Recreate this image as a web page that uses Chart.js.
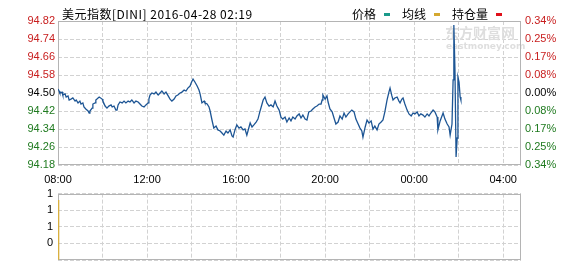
<!DOCTYPE html>
<html><head><meta charset="utf-8">
<script src="https://cdn.jsdelivr.net/npm/chart.js@4"></script>
<style>
html,body{margin:0;padding:0;background:#fff;}
#wrap{position:relative;width:578px;height:276px;overflow:hidden;background:#fff;}
canvas{position:absolute;left:0;}
#c1{top:0;}
#c2{top:182px;}
</style></head><body>
<div id="wrap"><canvas id="c1" width="578" height="188"></canvas><canvas id="c2" width="578" height="94"></canvas></div>
<script>
// ---- data (minutes after 08:00, price) ----
const minutes = [
  0,3,5,11,13,19,22,27,30,35,
  40,46,49,54,59,62,67,70,75,81,
  84,86,92,94,100,102,105,111,113,119,
  121,127,132,137,143,146,151,156,159,162,
  167,173,178,183,189,194,199,205,210,216,
  221,226,232,237,243,245,248,253,259,264,
  270,275,280,286,291,297,302,307,313,318,
  323,329,334,340,345,350,356,359,364,369,
  375,380,383,388,394,396,402,407,410,415,
  420,426,431,437,442,447,453,458,464,469,
  472,477,482,488,493,499,504,509,515,518,
  523,528,534,539,544,550,553,558,563,569,
  574,580,585,590,596,601,606,612,617,623,
  628,633,639,644,650,655,660,666,671,676,
  682,687,693,698,704,709,712,714,720,725,
  728,733,739,744,749,755,760,766,771,776,
  782,787,792,798,803,809,814,819,822,828,
  833,838,844,849,854,860,865,871,876,881,
  887,892,895,900,903,908,914,919,922,927,
  930,935,941,946,952,957,962,968,973,978,
  984,989,995,1000,1005,1011,1016,1022,1024,1030,
  1035,1038,1043,1049,1054,1057,1062,1065,1067,1070,
  1073,1076,1078,1081,1084,1086
];
const prices = [
  94.518,94.509,94.500,94.504,94.491,94.496,94.482,94.487,94.469,94.473,
  94.478,94.464,94.469,94.456,94.464,94.451,94.456,94.438,94.429,94.420,
  94.411,94.420,94.433,94.451,94.456,94.469,94.473,94.482,94.482,94.473,
  94.464,94.442,94.433,94.442,94.447,94.438,94.442,94.424,94.424,94.447,
  94.460,94.456,94.464,94.456,94.464,94.460,94.469,94.456,94.464,94.460,
  94.451,94.442,94.438,94.447,94.456,94.473,94.491,94.500,94.496,94.504,
  94.491,94.500,94.509,94.496,94.504,94.487,94.473,94.464,94.473,94.487,
  94.491,94.500,94.504,94.513,94.509,94.522,94.531,94.544,94.562,94.549,
  94.531,94.513,94.496,94.456,94.464,94.456,94.451,94.438,94.420,94.380,
  94.344,94.353,94.336,94.331,94.322,94.313,94.331,94.322,94.336,94.309,
  94.304,94.336,94.358,94.344,94.349,94.336,94.340,94.313,94.349,94.367,
  94.349,94.358,94.371,94.384,94.416,94.451,94.469,94.482,94.456,94.442,
  94.447,94.438,94.464,94.442,94.424,94.393,94.384,94.393,94.371,94.389,
  94.376,94.393,94.384,94.398,94.407,94.389,94.402,94.384,94.380,94.416,
  94.420,94.429,94.438,94.442,94.451,94.451,94.469,94.491,94.473,94.487,
  94.460,94.429,94.416,94.389,94.362,94.371,94.398,94.384,94.411,94.393,
  94.407,94.416,94.424,94.416,94.384,94.362,94.344,94.331,94.304,94.349,
  94.380,94.367,94.376,94.340,94.353,94.336,94.362,94.371,94.380,94.416,
  94.469,94.504,94.522,94.487,94.469,94.478,94.482,94.464,94.456,94.473,
  94.478,94.451,94.424,94.407,94.398,94.411,94.407,94.416,94.398,94.407,
  94.402,94.393,94.407,94.398,94.411,94.424,94.416,94.393,94.336,94.376,
  94.398,94.411,94.384,94.362,94.349,94.313,94.362,94.558,94.802,94.602,
  94.216,94.300,94.571,94.549,94.482,94.469
];
const prevClose = 94.50;
const priceTicks = [94.18,94.26,94.34,94.42,94.50,94.58,94.66,94.74,94.82];
const pctLabels = ['0.34%','0.25%','0.17%','0.08%','0.00%','0.08%','0.17%','0.25%','0.34%'];
const gridMinutes = [0,120,240,360,480,600,720,840,960,1080,1200];
const timeLabels = ['08:00','10:00','12:00','14:00','16:00','18:00','20:00','22:00','00:00','02:00','04:00'];
const axisEndMinute = 1248;
const volMinutes = [0];
const volValues = [3.6];
const volTickValues = [0,1,2,3,4];
const volTickLabels = ['','0','1','1','1'];
const titleText = '美元指数[DINI] 2016-04-28 02:19';
const legendItems = ['价格','均线','持仓量'];
const legendColors = ['#1a9a8a','#d4a830','#e0101a'];

const RED = '#c81e1e', GREEN = '#1f7a1f';
const tickFont = {family:'"Liberation Sans", Arial, sans-serif', size:11};
const gridColor = '#d2d2d2';

function tickColor(c){
  const v = c.tick ? c.tick.value : 0;
  if (Math.abs(v - prevClose) < 1e-6) return '#000';
  return v > prevClose ? RED : GREEN;
}

const framePlugin = {
  id:'frame',
  beforeDatasetsDraw(chart){
    const {ctx, chartArea:a} = chart;
    ctx.save();
    ctx.strokeStyle = '#b4b4b4';
    ctx.lineWidth = 1;
    ctx.strokeRect(Math.round(a.left)+0.5, Math.round(a.top)+0.5, Math.round(a.right-a.left)-1, Math.round(a.bottom-a.top)-1);
    ctx.restore();
  }
};

const watermarkPlugin = {
  id:'wm',
  beforeDatasetsDraw(chart){
    const ctx = chart.ctx;
    ctx.save();
    ctx.fillStyle = '#dedede';
    ctx.textBaseline = 'middle';
    ctx.font = 'bold 14px "Noto Sans CJK SC"';
    ctx.fillText('东方财富网', 445, 33);
    ctx.font = 'bold 9px "DejaVu Sans"';
    ctx.fillText('eastmoney.com', 446, 47);
    ctx.restore();
  }
};

const textPlugin = {
  id:'txt',
  afterDraw(chart){
    const ctx = chart.ctx;
    ctx.save();
    ctx.textBaseline = 'middle';
    ctx.fillStyle = '#000';
    ctx.font = '12px "Noto Sans CJK SC"';
    if ('letterSpacing' in ctx) ctx.letterSpacing = '0.5px';
    ctx.fillText(titleText, 62, 14);
    if ('letterSpacing' in ctx) ctx.letterSpacing = '0px';
    let x = 352;
    const gaps = [50, 50, 0];
    legendItems.forEach((t,i)=>{
      ctx.fillStyle = '#000';
      ctx.fillText(t, x, 14);
      const w = ctx.measureText(t).width;
      ctx.fillStyle = legendColors[i];
      ctx.fillRect(Math.round(x + w + 8), 13, 6, 3);
      x += gaps[i];
    });
    ctx.restore();
  }
};

new Chart(document.getElementById('c1'), {
  type:'line',
  data:{datasets:[{
    data: minutes.map((m,i)=>({x:m, y:prices[i]})),
    borderColor:'#1d5594', borderWidth:1.3, pointRadius:0, tension:0, yAxisID:'y'
  }]},
  options:{
    responsive:false, animation:false, events:[],
    layout:{padding:{top:21,left:0,right:0,bottom:0}},
    plugins:{legend:{display:false}, tooltip:{enabled:false}},
    scales:{
      x:{type:'linear', min:0, max:axisEndMinute,
        afterBuildTicks:s=>{s.ticks = gridMinutes.map(v=>({value:v}));},
        afterFit:s=>{s.height = 23;},
        ticks:{autoSkip:false, maxRotation:0, padding:8, font:tickFont, color:'#000',
          callback:(v,i)=> i%2===0 ? timeLabels[i] : ''},
        grid:{color:gridColor, drawTicks:false},
        border:{display:false, dash:[4,2]}
      },
      y:{type:'linear', position:'left', min:94.18, max:94.82,
        afterBuildTicks:s=>{s.ticks = priceTicks.map(v=>({value:v}));},
        afterFit:s=>{s.width = 58;},
        ticks:{padding:3, font:tickFont, color:tickColor, callback:v=>v.toFixed(2)},
        grid:{color:gridColor, drawTicks:false},
        border:{display:false, dash:[4,2]}
      },
      y2:{type:'linear', position:'right', min:94.18, max:94.82,
        afterBuildTicks:s=>{s.ticks = priceTicks.map(v=>({value:v}));},
        afterFit:s=>{s.width = 57;},
        ticks:{padding:4, font:tickFont, color:tickColor, callback:(v,i)=>pctLabels[i]},
        grid:{display:false, drawTicks:false},
        border:{display:false}
      }
    }
  },
  plugins:[watermarkPlugin, framePlugin, textPlugin]
});

new Chart(document.getElementById('c2'), {
  type:'bar',
  data:{datasets:[{
    data: volMinutes.map((m,i)=>({x:m, y:volValues[i]})),
    backgroundColor:'#d9b040', barThickness:2
  }]},
  options:{
    responsive:false, animation:false, events:[],
    layout:{padding:{top:6,left:0,right:57,bottom:0}},
    plugins:{legend:{display:false}, tooltip:{enabled:false}},
    scales:{
      x:{type:'linear', min:0, max:axisEndMinute, offset:false,
        afterBuildTicks:s=>{s.ticks = gridMinutes.map(v=>({value:v}));},
        afterFit:s=>{s.height = 16;},
        ticks:{display:false},
        grid:{color:gridColor, drawTicks:false, offset:false},
        border:{display:false, dash:[4,2]}
      },
      y:{type:'linear', position:'left', min:0, max:4,
        afterBuildTicks:s=>{s.ticks = volTickValues.map(v=>({value:v}));},
        afterFit:s=>{s.width = 58;},
        ticks:{padding:5, font:tickFont, color:'#000', callback:(v,i)=>volTickLabels[i]},
        grid:{color:gridColor, drawTicks:false},
        border:{display:false, dash:[4,2]}
      }
    }
  },
  plugins:[framePlugin]
});
</script>
</body></html>
